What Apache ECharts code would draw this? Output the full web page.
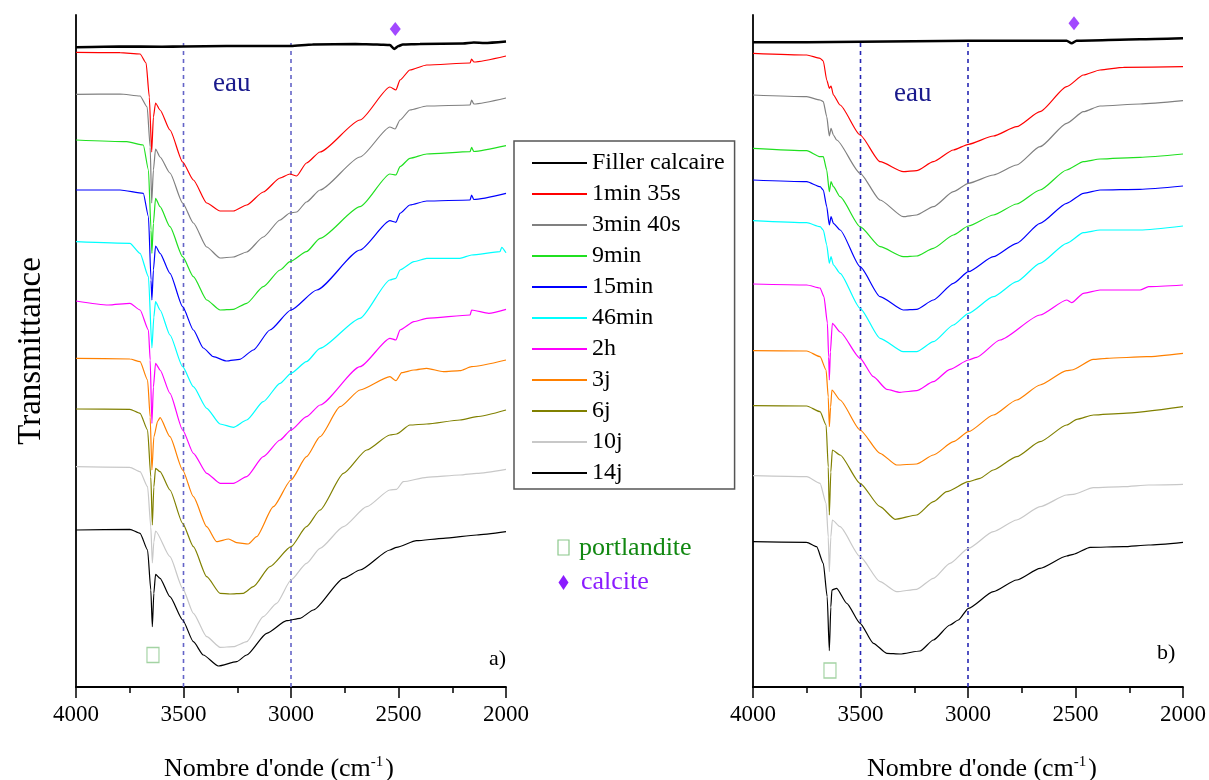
<!DOCTYPE html>
<html><head><meta charset="utf-8">
<script src="https://cdn.jsdelivr.net/npm/echarts@6/dist/echarts.min.js"></script>
<style>html,body{margin:0;padding:0;background:#fff}#c{width:1209px;height:780px}</style>
</head><body><div id="c"></div>
<script>
// ---- data (wavenumber cm-1, transmittance in arbitrary stacked units) ----
const X_MIN = 2000, X_MAX = 4000, X_STEP = 500;
const Y_MAX = 672;
const seriesNames = ['Filler calcaire','1min 35s','3min 40s','9min','15min','46min','2h','3j','6j','10j','14j'];

const aFiller = [[4000,639.7],[3800,640.5],[3600,640.2],[3500,640.5],[3300,641],[3000,641],[2900,642.5],[2700,643],[2600,642.5],[2540,642],[2520,638],[2500,641],[2480,642.5],[2400,643],[2200,643.5],[2150,644.5],[2100,644],[2000,645.5]];
const aRed = [[4000,634.7],[3795,634.3],[3702,633],[3674,624],[3659,590],[3648,535],[3640,570],[3630,584],[3609,577],[3563,557],[3504,525],[3454,507],[3392,484],[3330,476],[3268,476],[3206,482],[3129,495],[3051,509],[3005,513],[2974,511],[2928,524],[2865,535],[2679,567],[2540,600],[2512,597],[2493,607],[2447,617],[2369,622],[2167,624],[2160,628],[2150,625],[2000,631]];
const aGray = [[4000,592.7],[3795,593],[3702,591],[3669,580],[3655,540],[3648,484],[3640,517],[3630,538],[3609,530],[3563,514],[3504,484],[3454,464],[3392,440],[3330,429],[3268,430],[3206,435],[3129,450],[3051,467],[3005,474],[2974,475],[2928,485],[2865,497],[2679,530],[2540,560],[2516,558],[2493,567],[2447,577],[2369,581],[2167,582],[2160,587],[2150,583],[2000,589]];
const aGreen = [[4000,547],[3764,545.3],[3687,542],[3663,517],[3651,457],[3647,433.7],[3640,463.7],[3630,488.7],[3609,480.3],[3563,460.3],[3504,430.3],[3454,410.3],[3392,387],[3330,377],[3268,377.7],[3206,383.7],[3129,400.3],[3051,417],[3005,425.3],[2928,435.3],[2865,448.7],[2679,480.3],[2540,513],[2512,512],[2493,520.3],[2447,528.7],[2369,533],[2167,535.3],[2160,539.7],[2150,535.5],[2000,541.3]];
const aBlue = [[4000,497],[3795,497],[3687,493.7],[3663,470.3],[3651,407],[3647,387],[3640,417],[3630,441],[3609,433.7],[3563,413.7],[3504,380.3],[3454,357],[3408,339],[3361,330.3],[3300,326],[3238,327.7],[3175,337],[3098,357],[3000,377],[2880,397],[2679,437],[2540,466.3],[2512,464.7],[2493,473.7],[2447,482],[2369,486],[2167,487],[2160,492],[2150,487.5],[2000,493.7]];
const aCyan = [[4000,445.3],[3749,443.7],[3702,433.7],[3663,410.3],[3647,339],[3638,370],[3630,385.3],[3609,377],[3563,352],[3504,320.3],[3454,300.3],[3392,278.7],[3330,263],[3268,259.7],[3206,267],[3129,285.3],[3051,303.7],[3000,313.7],[2928,325.3],[2865,338.7],[2679,368.7],[2540,407],[2512,408.7],[2493,417],[2428,425.3],[2369,428.7],[2214,428.7],[2160,432],[2028,435.3],[2020,439.7],[2000,434.3]];
const aMagenta = [[4000,386],[3850,382],[3749,383.7],[3702,377],[3663,357],[3655,327],[3647,263.7],[3640,300],[3630,323.7],[3609,317],[3563,293.7],[3504,257],[3454,233.7],[3392,213.7],[3330,203.7],[3268,203.7],[3206,210.3],[3129,230.3],[3051,247],[3000,257],[2928,270.3],[2865,282],[2679,320.3],[2540,348.7],[2512,347],[2493,357],[2428,365.3],[2369,368.7],[2167,372],[2160,377],[2080,373.7],[2000,377.7]];
const aOrange = [[4000,328.7],[3749,328],[3702,325.3],[3667,307],[3655,270],[3647,217],[3638,250],[3620,266],[3609,269.3],[3563,250.3],[3504,217],[3454,190.3],[3392,160.3],[3346,145.3],[3290,148],[3253,144.3],[3199,143],[3160,150.3],[3082,180.3],[3000,207],[2928,230.3],[2865,250.3],[2772,280.3],[2679,297],[2540,310.3],[2512,306.3],[2485,314.3],[2428,317],[2369,318.7],[2291,315.3],[2214,316.3],[2160,320.3],[2000,327]];
const aOlive = [[4000,278],[3749,277.7],[3702,273.7],[3667,257],[3652,210],[3645,162],[3638,200],[3630,218.7],[3609,215.3],[3563,197],[3504,163.7],[3454,140.3],[3392,110.3],[3330,93.7],[3284,93],[3222,93.7],[3175,100.3],[3098,120.3],[3000,140.3],[2928,160.3],[2865,177],[2756,213.7],[2648,237],[2540,252],[2509,253],[2447,262],[2369,263],[2214,267],[2136,270.3],[2000,277]];
const aLight = [[4000,220.3],[3749,219.7],[3702,215.3],[3667,200.3],[3652,160],[3645,124],[3638,145],[3630,156],[3563,130.3],[3504,98.7],[3454,73.7],[3392,50.3],[3330,39.7],[3268,40.3],[3206,45.3],[3129,70.3],[3067,83.7],[3000,107],[2928,123.7],[2865,138.7],[2756,160.3],[2648,180.3],[2540,197],[2509,197.7],[2478,205.3],[2369,209.7],[2214,212],[2136,213.7],[2000,217.7]];
const aBlack = [[4000,157],[3749,157.7],[3702,153.7],[3667,137],[3652,97],[3645,60.3],[3638,93.7],[3630,112.7],[3609,108.7],[3563,90.3],[3504,67],[3454,45.3],[3408,32],[3338,21],[3253,25.3],[3206,32],[3113,53.7],[3020,66.3],[2958,68.7],[2896,77],[2756,108.7],[2679,117],[2540,137],[2509,139.7],[2416,146.3],[2291,148.7],[2136,152],[2000,155.3]];

const bFiller = [[4000,644.7],[3750,644.7],[3500,645.3],[3000,646.3],[2541,646.3],[2518,643.7],[2495,646.3],[2200,647.7],[2000,648.7]];
const bRed = [[4000,633.7],[3750,632],[3688,628.7],[3673,626],[3657,607],[3645,598.7],[3637,601],[3626,592],[3595,582],[3502,552],[3409,525.3],[3301,515.3],[3239,516.3],[3161,525.3],[3068,537],[2998,542.7],[2882,551],[2774,560.3],[2665,575.3],[2541,600.3],[2463,612],[2386,617],[2277,619.7],[2000,620.3]];
const bGray = [[4000,592],[3750,590.3],[3688,587],[3673,585.3],[3657,570.3],[3645,551],[3637,558.7],[3626,552],[3611,547],[3502,513.7],[3409,487],[3301,470.3],[3239,472],[3161,480.3],[3068,495.3],[2998,503.7],[2882,512],[2774,522],[2665,540.3],[2541,563.7],[2463,575.3],[2386,581],[2200,583],[2000,586.3]];
const bGreen = [[4000,538.7],[3750,536.3],[3688,530.3],[3673,530.3],[3657,517],[3645,495.3],[3637,505.3],[3626,500.3],[3595,490.3],[3502,460.3],[3409,440.3],[3301,430.3],[3239,431],[3161,438.7],[3068,452],[2998,461],[2882,472],[2774,483],[2665,497],[2541,517],[2463,525.3],[2386,528],[2200,529.7],[2000,533]];
const bBlue = [[4000,507],[3750,505.3],[3688,500.3],[3673,497],[3657,480.3],[3645,462],[3637,470.3],[3626,463.7],[3595,457],[3502,420.3],[3409,390.3],[3301,377],[3239,377.7],[3161,387],[3068,403.7],[2998,415.3],[2882,430.3],[2774,443.7],[2665,463.7],[2541,483.7],[2463,493.7],[2386,497],[2200,497.7],[2000,501]];
const bCyan = [[4000,466.3],[3750,464.3],[3688,460.3],[3673,457],[3657,442],[3645,423.7],[3637,430.3],[3626,422],[3595,413.7],[3502,378.7],[3409,348.7],[3301,335.3],[3239,335.3],[3161,345.3],[3068,362],[2998,373.7],[2882,390.3],[2774,405.3],[2665,423.7],[2541,443.7],[2463,454.3],[2386,457],[2200,457],[2000,461]];
const bMagenta = [[4000,403],[3750,402],[3688,399],[3670,390.3],[3654,364],[3648,330],[3645,307],[3640,335],[3631,363.7],[3595,355],[3502,328.7],[3440,310.3],[3378,297.7],[3316,294.7],[3239,296.3],[3161,305.3],[3084,317.7],[2998,327],[2960,329.7],[2851,347],[2665,372],[2541,387],[2518,384.3],[2463,393.7],[2386,397],[2200,397],[2160,400.3],[2000,402]];
const bOrange = [[4000,336.3],[3750,336],[3688,330.3],[3660,317],[3650,290],[3645,260.3],[3639,280],[3633,297],[3595,287],[3502,257],[3409,233.7],[3332,222],[3239,223],[3161,232],[3068,245.3],[2998,255.3],[2882,272],[2774,287],[2665,302],[2541,316.3],[2518,317],[2417,327.7],[2355,328.7],[2169,330.3],[2000,333.7]];
const bOlive = [[4000,281.3],[3750,281],[3688,275.3],[3660,262],[3650,220],[3645,172],[3638,215],[3631,237],[3595,232],[3502,203.7],[3409,180.3],[3339,167.7],[3239,172],[3161,185.3],[3099,195.3],[2998,205.3],[2944,208.7],[2882,217],[2774,230.3],[2665,245.3],[2541,262],[2494,267.7],[2417,272],[2277,273.7],[2000,280.3]];
const bLight = [[4000,211.3],[3750,210.3],[3688,203.7],[3660,183.7],[3650,150],[3645,115.3],[3638,150],[3631,167],[3595,160.3],[3502,130.3],[3409,105.3],[3332,95.3],[3239,97.7],[3161,108.7],[3084,123.7],[2998,138.7],[2882,155.3],[2774,167],[2665,180.3],[2541,192],[2510,192.7],[2417,199.3],[2277,200.3],[2160,202],[2000,202.7]];
const bBlack = [[4000,145.3],[3750,144.7],[3704,140.3],[3673,123.7],[3655,90.3],[3645,36.3],[3638,80],[3633,97],[3611,98.7],[3564,83.7],[3502,63.7],[3440,43.7],[3378,33.7],[3316,33],[3223,36],[3161,47],[3084,62],[3045,67],[2998,78.7],[2882,95.3],[2774,107],[2665,118.7],[2541,131],[2510,132.7],[2432,139.7],[2277,140.3],[2160,142],[2000,144.7]];

const panelA = [aFiller,aRed,aGray,aGreen,aBlue,aCyan,aMagenta,aOrange,aOlive,aLight,aBlack];
const panelB = [bFiller,bRed,bGray,bGreen,bBlue,bCyan,bMagenta,bOrange,bOlive,bLight,bBlack];

const waterBand = [3500, 3000];   // dashed reference lines
const waterTop = 648;
const calcitePeak = [[[2515, 658]], [[2507, 663.7]]];
const portlanditePeak = [[[3642, 32]], [[3642, 16.5]]];

// ---- styles ----
const colors = ['#000000','#ff0000','#808080','#20e020','#0000ff','#00ffff','#ff00ff','#ff8000','#808000','#c8c8c8','#000000'];
const widths = [2.6,1.2,1.2,1.2,1.2,1.2,1.2,1.2,1.2,1.2,1.2];
const dashColors = ['#6464c8','#2828b4'];
const SERIF = 'Liberation Serif';

const chart = echarts.init(document.getElementById('c'), null, {renderer:'canvas'});

function xAxis(i){
  return {
    gridIndex:i, type:'value', min:X_MIN, max:X_MAX, interval:X_STEP, inverse:true,
    axisLine:{show:true, onZero:false, lineStyle:{color:'#000', width:1.8}},
    axisTick:{show:true, inside:false, length:11, lineStyle:{color:'#000', width:1.5}},
    minorTick:{show:true, splitNumber:2, length:6, lineStyle:{color:'#000', width:1.5}},
    splitLine:{show:false}, minorSplitLine:{show:false},
    axisLabel:{color:'#000', fontFamily:SERIF, fontSize:23, margin:16, formatter:v => String(v)},
    name:"Nombre d'onde (cm{sup|-1})", nameLocation:'middle', nameGap:68,
    nameTextStyle:{color:'#000', fontFamily:SERIF, fontSize:26, padding: i===0 ? [0,24,0,0] : [0,0,0,28],
      rich:{sup:{fontFamily:SERIF, fontSize:15, verticalAlign:'top', padding:[0,2,14,0]}}}
  };
}
function yAxis(i){
  return {
    gridIndex:i, type:'value', min:0, max:Y_MAX,
    axisLine:{show:true, lineStyle:{color:'#000', width:1.8}},
    axisTick:{show:false}, axisLabel:{show:false}, splitLine:{show:false},
    name: i===0 ? 'Transmittance' : '', nameLocation:'middle', nameGap:28, nameRotate:90,
    nameTextStyle:{color:'#000', fontFamily:SERIF, fontSize:33}
  };
}

const series = [];
[panelA, panelB].forEach((panel, p) => {
  panel.forEach((d, k) => {
    series.push({
      name: seriesNames[k], type:'line', xAxisIndex:p, yAxisIndex:p, data:d,
      symbol:'none', smooth:0.2, smoothMonotone:'x', silent:true, animation:false,
      lineStyle:{color:colors[k], width:widths[k]}, itemStyle:{color:colors[k]}, z: k===0 ? 5 : 3
    });
  });
  waterBand.forEach(w => {
    series.push({
      type:'line', xAxisIndex:p, yAxisIndex:p, data:[[w,0],[w,waterTop]],
      symbol:'none', silent:true, animation:false, z:2,
      lineStyle:{color:dashColors[p], width:1.6, type:[4,4]}
    });
  });
  series.push({
    type:'scatter', xAxisIndex:p, yAxisIndex:p, data:calcitePeak[p], symbol:'diamond',
    symbolSize:[11,14], itemStyle:{color:'#8b1cff'}, silent:true, animation:false
  });
  series.push({
    type:'scatter', xAxisIndex:p, yAxisIndex:p, data:portlanditePeak[p], symbol:'rect',
    symbolSize:[12,15], itemStyle:{color:'rgba(0,0,0,0)', borderColor:'#8cc88c', borderWidth:1.3},
    silent:true, animation:false
  });
});

chart.setOption({
  animation:false,
  backgroundColor:'#fff',
  grid:[
    {left:76, top:15, width:430, height:672, containLabel:false, outerBoundsMode:'none'},
    {left:753, top:15, width:430, height:672, containLabel:false, outerBoundsMode:'none'}
  ],
  xAxis:[xAxis(0), xAxis(1)],
  yAxis:[yAxis(0), yAxis(1)],
  legend:{
    data:seriesNames, orient:'vertical', left:514, top:141, selectedMode:false,
    itemWidth:55, itemHeight:14, itemGap:7, padding:[10,10,4,17],
    itemStyle:{opacity:0, borderWidth:0},
    borderColor:'#555', borderWidth:1.5, backgroundColor:'#fff',
    textStyle:{color:'#000', fontFamily:SERIF, fontSize:24, lineHeight:24}
  },
  graphic:[
    {type:'text', left:213, top:70, style:{text:'eau', fill:'#1a1a8c', font:'27px "Liberation Serif"'}},
    {type:'text', left:894, top:80, style:{text:'eau', fill:'#1a1a8c', font:'27px "Liberation Serif"'}},
    {type:'text', left:489, top:648, style:{text:'a)', fill:'#000', font:'22px "Liberation Serif"'}},
    {type:'text', left:1157, top:642, style:{text:'b)', fill:'#000', font:'22px "Liberation Serif"'}},
    {type:'rect', shape:{x:558, y:540, width:11, height:15}, style:{fill:'none', stroke:'#8cc88c', lineWidth:1.2}},
    {type:'text', left:579, top:535, style:{text:'portlandite', fill:'#118811', font:'26px "Liberation Serif"'}},
    {type:'polygon', shape:{points:[[563.5,575],[568.5,582.5],[563.5,590],[558.5,582.5]]}, style:{fill:'#8b1cff'}},
    {type:'text', left:581, top:569, style:{text:'calcite', fill:'#8b1cff', font:'26px "Liberation Serif"'}}
  ],
  series:series
});
</script></body></html>
